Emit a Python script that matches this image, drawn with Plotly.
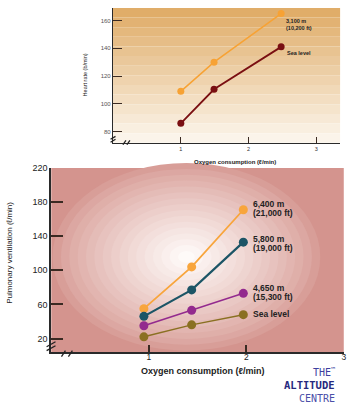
import plotly.graph_objects as go

# ---------------- data ----------------
top_x = [1.0, 1.49, 2.48]
hr_3100 = [109, 130, 165]
hr_sea = [86, 110.5, 141]

bot_x = [0.95, 1.44, 1.97]
ve_6400 = [55, 104, 171]
ve_5800 = [46, 77, 133]
ve_4650 = [35, 53, 73]
ve_sea = [22, 36, 48]

top_yticks = [80, 100, 120, 140, 160]
bot_yticks = [20, 60, 100, 140, 180, 220]
x_ticks = [1, 2, 3]

W, H = 355, 403


def px(x):
    return x / W


def py(y):
    return 1 - y / H


def hexmix(c1, c2, t):
    a = [int(c1[i:i + 2], 16) for i in (1, 3, 5)]
    b = [int(c2[i:i + 2], 16) for i in (1, 3, 5)]
    return "#%02x%02x%02x" % tuple(round(a[i] + (b[i] - a[i]) * t) for i in range(3))


# plot area pixel boxes
T_L, T_R, T_T, T_B = 114, 343, 3, 139.5
B_L, B_R, B_T, B_B = 51.7, 346.7, 165, 351.7

fig = go.Figure()

fig.add_trace(go.Scatter(x=top_x, y=hr_3100, mode="lines+markers", xaxis="x", yaxis="y",
                         line=dict(color="#f7a234", width=1.5), marker=dict(size=7, color="#f7a234")))
fig.add_trace(go.Scatter(x=top_x, y=hr_sea, mode="lines+markers", xaxis="x", yaxis="y",
                         line=dict(color="#7a0f12", width=1.8), marker=dict(size=7, color="#7a0f12")))

fig.add_trace(go.Scatter(x=bot_x, y=ve_6400, mode="lines+markers", xaxis="x2", yaxis="y2",
                         line=dict(color="#f8a53c", width=1.8), marker=dict(size=9, color="#f8a53c")))
fig.add_trace(go.Scatter(x=bot_x, y=ve_5800, mode="lines+markers", xaxis="x2", yaxis="y2",
                         line=dict(color="#1c5566", width=2.2), marker=dict(size=9, color="#1c5566")))
fig.add_trace(go.Scatter(x=bot_x, y=ve_4650, mode="lines+markers", xaxis="x2", yaxis="y2",
                         line=dict(color="#932a8e", width=1.5), marker=dict(size=9, color="#932a8e")))
fig.add_trace(go.Scatter(x=bot_x, y=ve_sea, mode="lines+markers", xaxis="x2", yaxis="y2",
                         line=dict(color="#8a7022", width=1.5), marker=dict(size=9, color="#8a7022")))

shapes = []
# top background: vertical banded gradient
nb = 14
for i in range(nb):
    y0 = T_T + (T_B - T_T) * i / nb
    y1 = T_T + (T_B - T_T) * (i + 1) / nb
    col = hexmix("#e0ad69", "#fbf4ea", i / (nb - 1))
    shapes.append(dict(type="rect", xref="paper", yref="paper", x0=px(T_L), x1=px(T_R),
                       y0=py(y1), y1=py(y0), fillcolor=col, line=dict(width=0), layer="below"))

# bottom background: radial banded gradient
shapes.append(dict(type="rect", xref="paper", yref="paper", x0=px(B_L), x1=px(B_R),
                   y0=py(B_B), y1=py(B_T), fillcolor="#d4948e", line=dict(width=0), layer="below"))
cx, cy, rx, ry = 188, 255, 135, 95
nr = 16
for i in range(nr):
    s = 1 - i / nr
    col = hexmix("#d89e98", "#fefaf8", (i / (nr - 1)) ** 0.85)
    shapes.append(dict(type="circle", xref="paper", yref="paper",
                       x0=px(cx - rx * s), x1=px(cx + rx * s), y0=py(cy + ry * s), y1=py(cy - ry * s),
                       fillcolor=col, line=dict(width=0), layer="below"))


# axis break marks
def seg(x0, y0, x1, y1, w=1.3, c="#222"):
    shapes.append(dict(type="line", xref="paper", yref="paper", x0=px(x0), y0=py(y0),
                       x1=px(x1), y1=py(y1), line=dict(color=c, width=w)))


# top chart breaks
seg(111.5, 136, 116.5, 133)
seg(111.5, 139, 116.5, 136)
seg(124, 141.5, 127, 137)
seg(128, 141.5, 131, 137)
# bottom chart breaks
seg(47, 346, 56, 341)
seg(47, 350, 56, 345)
seg(62, 356, 66, 350)
seg(69, 356, 73, 350)

ann = []


def text(x, y, s, size, color="#222", bold=False, xanchor="left", angle=0, family="Liberation Sans, Arial"):
    ann.append(dict(x=px(x), y=py(y), xref="paper", yref="paper", text=("<b>%s</b>" % s) if bold else s,
                    showarrow=False, xanchor=xanchor, yanchor="middle", textangle=angle,
                    font=dict(size=size, color=color, family=family)))


# top labels
text(286, 16.5, "3,100 m", 5.5, bold=True)
text(286, 23.5, "(10,200 ft)", 5.5, bold=True)
text(287, 49, "Sea level", 5.5, bold=True)
text(86, 71, "Heart rate (b/min)", 5.5, xanchor="center", angle=-90)
text(237, 159, "Oxygen consumption (ℓ/min)", 6, bold=True, xanchor="center")

# bottom labels
text(253, 201.5, "6,400 m", 8.5, bold=True)
text(253, 210.5, "(21,000 ft)", 8.5, bold=True)
text(253, 237, "5,800 m", 8.5, bold=True)
text(253, 246, "(19,000 ft)", 8.5, bold=True)
text(253, 286.5, "4,650 m", 8.5, bold=True)
text(253, 295.5, "(15,300 ft)", 8.5, bold=True)
text(253, 313, "Sea level", 8.5, bold=True)
text(10, 251, "Pulmonary ventilation (ℓ/min)", 8, xanchor="center", angle=-90)
text(204, 370.5, "Oxygen consumption (ℓ/min)", 9, bold=True, xanchor="center")

# logo
text(340, 372, "THE<sup>™</sup>", 10, color="#3d3fa0", xanchor="right", family="DejaVu Sans Mono")
text(340, 385, "ALTITUDE", 10.5, color="#26297e", bold=True, xanchor="right", family="DejaVu Sans Mono")
text(340, 398, "CENTRE", 10, color="#4b4fa8", xanchor="right", family="DejaVu Sans Mono")

axis_common = dict(showgrid=False, zeroline=False, showline=True, linecolor="#2a2a2a",
                   ticks="inside", tickcolor="#3a2a22", fixedrange=True)

fig.update_layout(
    width=W, height=H, margin=dict(l=0, r=0, t=0, b=0),
    paper_bgcolor="white", plot_bgcolor="rgba(0,0,0,0)", showlegend=False,
    shapes=shapes, annotations=ann,
    font=dict(family="Liberation Sans, Arial", color="#333"),
    xaxis=dict(domain=[px(T_L), px(T_R)], range=[0, 3.35], anchor="y", tickvals=x_ticks,
               ticklen=6, tickwidth=1.3, linewidth=1.3,
               tickfont=dict(size=5.5, color="#333"), **axis_common),
    yaxis=dict(domain=[py(T_B), py(T_T)], range=[72, 169], anchor="x", tickvals=top_yticks,
               ticklen=9, tickwidth=1.3, linewidth=1.3,
               tickfont=dict(size=6, color="#555"), **axis_common),
    xaxis2=dict(domain=[px(B_L), px(B_R)], range=[0, 3.0001], anchor="y2", tickvals=x_ticks,
                ticklen=7, tickwidth=1.8, linewidth=1.8, ticklabelstandoff=-4,
                tickfont=dict(size=8.5, color="#222"), **axis_common),
    yaxis2=dict(domain=[py(B_B), py(B_T)], range=[3.8, 220.0001], anchor="x2", tickvals=bot_yticks,
                ticklen=12, tickwidth=1.8, linewidth=1.8,
                tickfont=dict(size=9, color="#222"), **axis_common),
)
fig.update_xaxes(tickprefix="<b>", ticksuffix="</b>", selector=dict(anchor="y2"))
fig.update_yaxes(tickprefix="<b>", ticksuffix="</b>", selector=dict(anchor="x2"))

fig.write_html("out.html", config={"displayModeBar": False},
               post_script="document.body.style.margin='0px';document.body.style.overflow='hidden';")
